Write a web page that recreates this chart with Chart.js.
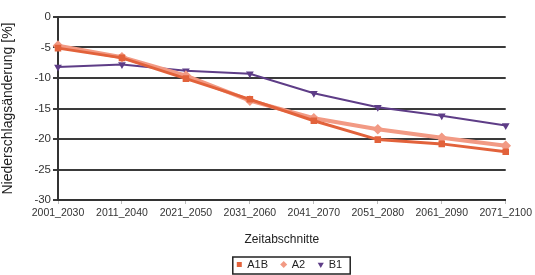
<!DOCTYPE html>
<html>
<head>
<meta charset="utf-8">
<script src="https://cdn.jsdelivr.net/npm/chart.js@4"></script>
<style>
  html, body { margin: 0; padding: 0; background: #fff; }
  #wrap { width: 535px; height: 275px; }
</style>
</head>
<body>
<div id="wrap"><canvas id="chart"></canvas></div>
<script>
// categories and series
const periods = ['2001_2030', '2011_2040', '2021_2050', '2031_2060', '2041_2070', '2051_2080', '2061_2090', '2071_2100'];
const a1b = [-5.1, -6.7, -10.1, -13.5, -17.0, -20.1, -20.8, -22.1];
const a2 = [-4.7, -6.6, -9.6, -13.7, -16.6, -18.4, -19.8, -21.1];
const b1 = [-8.2, -7.8, -8.8, -9.3, -12.5, -14.8, -16.2, -17.8];
const yTicks = [0, -5, -10, -15, -20, -25, -30];

const FONT = 'Liberation Sans, Arial, sans-serif';
const LEGEND_DX = 36;
const LEGEND_DY = 5;

// pushes the legend a bit and draws the frame around it
const legendFrame = {
    id: 'legendFrame',
    afterLayout(chart) {
        const lg = chart.legend;
        lg.top += LEGEND_DY; lg.bottom += LEGEND_DY;
        lg.left += LEGEND_DX; lg.right += LEGEND_DX;
    },
    afterDraw(chart) {
        const lg = chart.legend;
        const boxes = lg.legendHitBoxes;
        if (!boxes || !boxes.length) return;
        let l = Infinity, r = -Infinity;
        boxes.forEach(h => {
            l = Math.min(l, h.left); r = Math.max(r, h.left + h.width);
        });
        const ctx = chart.ctx;
        ctx.save();
        ctx.strokeStyle = '#222';
        ctx.lineWidth = 1.5;
        ctx.strokeRect(l - 4, lg.top + 5, r - l + 12, 17);
        ctx.restore();
    }
};

new Chart(document.getElementById('chart').getContext('2d'), {
    type: 'line',
    data: {
        labels: periods,
        datasets: [{
            label: 'A1B',
            data: a1b,
            borderColor: '#E2623B',
            backgroundColor: '#E2623B',
            borderWidth: 3,
            pointStyle: 'rect',
            pointRadius: 2.5
        }, {
            label: 'A2',
            data: a2,
            borderColor: '#F29A84',
            backgroundColor: '#F29A84',
            borderWidth: 4,
            pointStyle: 'rectRot',
            pointRadius: 2.5
        }, {
            label: 'B1',
            data: b1,
            borderColor: '#5E3D87',
            backgroundColor: '#5E3D87',
            borderWidth: 2,
            pointStyle: 'triangle',
            rotation: 180,
            pointRadius: 2.5
        }]
    },
    options: {
        responsive: true,
        maintainAspectRatio: false,
        animation: false,
        layout: { padding: { top: 17, right: 28, left: 0, bottom: 0 } },
        plugins: {
            tooltip: { enabled: false },
            legend: {
                position: 'bottom',
                labels: {
                    usePointStyle: true,
                    boxWidth: 5,
                    boxHeight: 5,
                    padding: 7,
                    color: '#222',
                    font: { family: FONT, size: 11 },
                    generateLabels(chart) {
                        const items = Chart.defaults.plugins.legend.labels.generateLabels(chart);
                        items.forEach((it, i) => {
                            it.lineWidth = 0;
                            if (i < items.length - 1) it.text += '  ';
                        });
                        return items;
                    }
                }
            }
        },
        scales: {
            x: {
                offset: false,
                grid: { drawOnChartArea: false, tickLength: 4, color: '#bbb' },
                border: { color: '#333', width: 2 },
                ticks: { color: '#333', maxRotation: 0, autoSkip: false, padding: 3, font: { family: FONT, size: 10.5 } },
                title: { display: true, text: 'Zeitabschnitte', color: '#222', font: { family: FONT, size: 12 }, padding: { top: 10, bottom: 0 } },
                afterFit(scale) { scale.height = 47; }
            },
            y: {
                min: -30,
                max: 0,
                afterBuildTicks(scale) { scale.ticks = yTicks.map(v => ({ value: v })); },
                grid: { color: '#3a3a3a', lineWidth: 2, tickLength: 5 },
                border: { color: '#333', width: 2 },
                ticks: { color: '#333', padding: 2, font: { family: FONT, size: 11.5 } },
                title: { display: true, text: 'Niederschlagsänderung [%]', color: '#222', font: { family: FONT, size: 14 }, padding: { top: 0, bottom: 2 } },
                afterFit(scale) { scale.width = 58; }
            }
        }
    },
    plugins: [legendFrame]
});
</script>
</body>
</html>
